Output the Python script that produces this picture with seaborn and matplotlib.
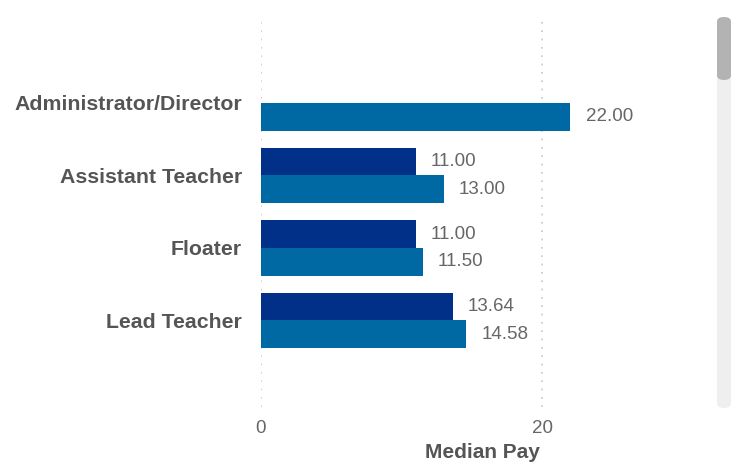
import numpy as np
import pandas as pd
import matplotlib
matplotlib.use("Agg")
import matplotlib.pyplot as plt
import seaborn as sns
from matplotlib.patches import FancyBboxPatch

# chart data
roles = ["Administrator/Director", "Assistant Teacher", "Floater", "Lead Teacher"]
series_names = ["Series 1", "Series 2"]
pay_series_1 = [np.nan, 11.00, 11.00, 13.64]
pay_series_2 = [22.00, 13.00, 11.50, 14.58]
x_ticks = [0, 20]

palette = {"Series 1": "#003087", "Series 2": "#0068a3"}

df = pd.DataFrame({
    "Role": roles * 2,
    "Series": [series_names[0]] * len(roles) + [series_names[1]] * len(roles),
    "Median Pay": pay_series_1 + pay_series_2,
})

sns.set_style("white")
plt.rcParams['font.family'] = ['Liberation Sans', 'DejaVu Sans']

fig = plt.figure(figsize=(7.31, 4.65), dpi=100)
ax = fig.add_axes([261 / 731, 1 - 407 / 465, (704 - 261) / 731, (407 - 18) / 465])

sns.barplot(data=df, x="Median Pay", y="Role", hue="Series", order=roles,
            hue_order=series_names, palette=palette, orient="h", width=0.76,
            saturation=1, errorbar=None, legend=False, linewidth=0, ax=ax)

# value labels
for cont in ax.containers:
    labels = ["" if np.isnan(v) else f"{v:.2f}" for v in cont.datavalues]
    ax.bar_label(cont, labels=labels, padding=11, fontsize=13.5, color="#666666")

ax.set_xlim(0, 31.5)
ax.set_ylim(4.193, -1.172)
ax.set_xticks(x_ticks)
ax.set_xticklabels([str(t) for t in x_ticks])
ax.grid(axis="x", linestyle=(0, (1, 4)), color="#c8c8c8", linewidth=1.2)
ax.grid(axis="y", visible=False)
ax.set_axisbelow(True)
for s in ax.spines.values():
    s.set_visible(False)

ax.tick_params(axis="y", length=0, pad=13.5, labelsize=15.3, labelcolor="#555555")
for lbl in ax.get_yticklabels():
    lbl.set_fontweight("bold")
ax.tick_params(axis="x", length=0, pad=9, labelsize=13.5, labelcolor="#666666")
ax.set_ylabel("")
ax.set_xlabel("Median Pay", fontsize=15, fontweight="bold", color="#555555", labelpad=5)

# scrollbar on the right side
track = FancyBboxPatch((717 / 731, 1 - 408 / 465), 14 / 731, (408 - 17) / 465,
                       boxstyle="round,pad=0,rounding_size=0.01", transform=fig.transFigure,
                       facecolor="#efefef", edgecolor="none")
thumb = FancyBboxPatch((717 / 731, 1 - 80 / 465), 14 / 731, (80 - 17) / 465,
                       boxstyle="round,pad=0,rounding_size=0.01", transform=fig.transFigure,
                       facecolor="#b3b3b3", edgecolor="none")
fig.patches.extend([track, thumb])

fig.savefig("out.png", dpi=100)
